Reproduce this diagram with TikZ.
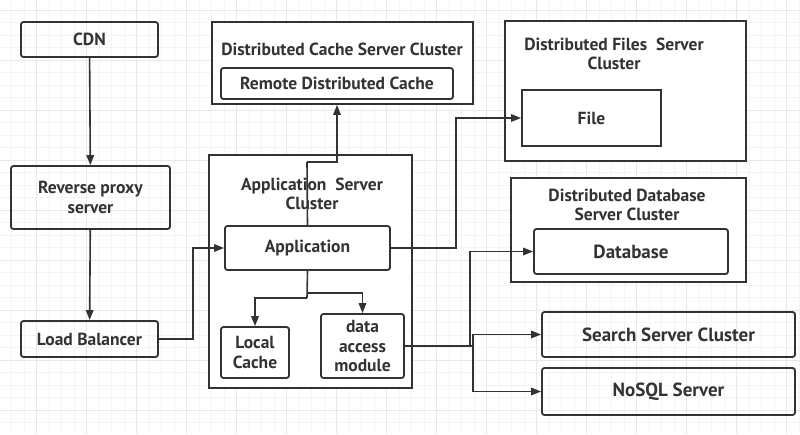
\documentclass[tikz,border=0pt]{standalone}
\usepackage{fontspec}
\setmainfont{PT Sans}
\usetikzlibrary{positioning}
\usetikzlibrary{arrows.meta}
\definecolor{ink}{RGB}{51,51,51}
\definecolor{gridminor}{RGB}{244,244,244}
\definecolor{gridmajor}{RGB}{232,232,232}

\begin{document}
\begin{tikzpicture}[x=1pt, y=-1pt,
    font=\fontsize{17.5}{19.5}\selectfont\bfseries, text=ink,
    box/.style = {draw=ink, line width=1.8pt, rounded corners=2.5pt, align=center, inner sep=0pt},
    sharp/.style = {draw=ink, line width=1.8pt, inner sep=0pt},
    title/.style = {align=center, inner sep=0pt},
    big/.style = {font=\fontsize{19}{21}\selectfont\bfseries},
    link/.style = {draw=ink, line width=1.6pt, -{Triangle[length=10pt,width=7.5pt]}},
    wire/.style = {draw=ink, line width=1.6pt}]
    \useasboundingbox (0,0) rectangle (800,434);
    \fill[white] (0,0) rectangle (800,434);
    % grid
    \foreach \x in {-1,11.5,...,800} \draw[gridminor, line width=0.8pt] (\x,0) -- (\x,434);
    \foreach \y in {10,22.5,...,434} \draw[gridminor, line width=0.8pt] (0,\y) -- (800,\y);
    \foreach \x in {36.5,86.5,...,800} \draw[gridmajor, line width=0.8pt] (\x,0) -- (\x,434);
    \foreach \y in {10,60,...,434} \draw[gridmajor, line width=0.8pt] (0,\y) -- (800,\y);

    % left column
    \node[box, minimum width=137pt, minimum height=35pt](cdn) at (89.5,39.5){CDN};
    \node[box, minimum width=159pt, minimum height=63pt](proxy) at (90.5,197.5){Reverse proxy\\server};
    \node[box, minimum width=137pt, minimum height=36pt](lb) at (89.5,339){Load Balancer};
    \draw[link] (cdn) -- (proxy);
    \draw[link] (proxy) -- (lb);

    % clusters
    \node[sharp, fill=white, minimum width=261pt, minimum height=82pt](cachecl) at (342.5,63){};
    \node[title](cachet) at (342,49){Distributed Cache Server Cluster};
    \node[box, minimum width=232pt, minimum height=31pt](remote) at (337,83.5){Remote Distributed Cache};

    \node[sharp, fill=white, minimum width=241pt, minimum height=140pt](filecl) at (625.5,91){};
    \node[title](filet) at (614,54){Distributed Files~ Server\\Cluster};
    \node[sharp, minimum width=139pt, minimum height=56pt](file) at (591.5,118){File};

    \node[sharp, fill=white, minimum width=235pt, minimum height=104pt](dbcl) at (628.5,230){};
    \node[title](dbt) at (627,205){Distributed Database\\Server Cluster};
    \node[box, big, minimum width=194pt, minimum height=45pt](db) at (631,251.5){Database};

    \node[sharp, fill=white, minimum width=203pt, minimum height=233pt](appcl) at (310.5,271.5){};
    \node[title](appt) at (312,194){Application~ Server\\Cluster};
    \node[box, fill=white, minimum width=165pt, minimum height=44pt](app) at (307.5,248){Application};
    \node[box, minimum width=68pt, minimum height=51pt](local) at (255,352.5){Local\\Cache};
    \node[box, minimum width=83pt, minimum height=64pt](dam) at (362.5,346){data\\access\\module};

    % right column
    \node[box, big, minimum width=253pt, minimum height=45pt](search) at (668.5,334.5){Search Server Cluster};
    \node[box, big, minimum width=253pt, minimum height=47pt](nosql) at (668.5,391.5){NoSQL Server};

    % connectors
    \coordinate (up) at (307,162);
    \draw[wire] (app.north) -- (up);
    \draw[link] (up) -| (remote.south |- cachecl.south);
    \draw[link] (lb.east) -- ++(34,0) |- (app.west);
    \draw[link] (app.east) -- ++(65,0) |- (file.west);
    \coordinate (split1) at (307,298);
    \coordinate (split2) at (307,293);
    \draw[wire] (app.south) -- (split1);
    \draw[link] (split1) -| (local.north);
    \draw[link] (split2) -| (dam.north);
    \coordinate (fork) at (473,346);
    \draw[wire] (dam.east) -- (fork);
    \draw[link] (dam.east) -- ++(65,0) |- (db.west);
    \draw[link] (fork) |- (search.west);
    \draw[link] (fork) |- (nosql.west);
\end{tikzpicture}
\end{document}
